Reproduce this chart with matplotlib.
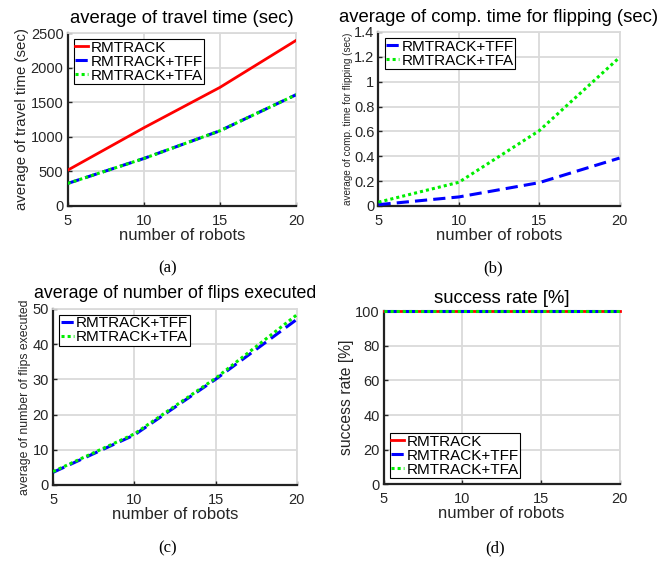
import matplotlib
matplotlib.use("Agg")
import matplotlib.pyplot as plt

robots = [5, 10, 15, 20]

# (a) average of travel time (sec)
travel_rmtrack = [517, 1130, 1715, 2395]
travel_tff = [325, 686, 1087, 1609]
travel_tfa = [325, 686, 1087, 1609]

# (b) average of computation time for flipping (sec)
comp_tff = [0.01, 0.072, 0.187, 0.385]
comp_tfa = [0.03, 0.19, 0.605, 1.195]

# (c) average of number of flips executed
flips_tff = [3.6, 14.2, 30.0, 47.0]
flips_tfa = [3.8, 14.5, 30.3, 48.3]

# (d) success rate [%]
succ_rmtrack = [100, 100, 100, 100]
succ_tff = [100, 100, 100, 100]
succ_tfa = [100, 100, 100, 100]

plt.rcParams["font.family"] = ["Liberation Sans", "DejaVu Sans"]

GRID = "#dadada"
TXT = "#262626"


def style(ax, yticks, ylim):
    ax.set_xlim(5, 20)
    ax.set_ylim(*ylim)
    ax.set_xticks([5, 10, 15, 20])
    ax.set_yticks(yticks)
    ax.grid(True, color=GRID, lw=1.3)
    ax.set_axisbelow(True)
    for s in ("top", "right"):
        ax.spines[s].set_color(GRID)
        ax.spines[s].set_linewidth(1.3)
    for s in ("left", "bottom"):
        ax.spines[s].set_color("#222222")
        ax.spines[s].set_linewidth(1.6)
    ax.tick_params(direction="in", length=3, width=1, labelsize=10.5, colors=TXT)
    ax.tick_params(axis="x", pad=6)
    ax.tick_params(axis="y", pad=3)
    ax.set_xlabel("number of robots", fontsize=12, color=TXT, labelpad=0)


def red(ax, y):
    ax.plot(robots, y, color="#ff0000", lw=2.0, label="RMTRACK", zorder=3)


def blue(ax, y):
    ax.plot(robots, y, color="#0000ff", lw=2.2, dashes=(4, 2), label="RMTRACK+TFF",
            zorder=3)


def green(ax, y):
    ax.plot(robots, y, color="#00ee00", lw=2.2, dashes=(1, 1), label="RMTRACK+TFA",
            zorder=3)


def legend(ax, loc):
    lg = ax.legend(loc=loc, fontsize=11, handlelength=0.85, handletextpad=0.15,
                   borderpad=0.1, labelspacing=0.0, borderaxespad=0.4,
                   fancybox=False, framealpha=1)
    lg.get_frame().set_edgecolor("black")
    lg.get_frame().set_linewidth(0.8)


fig = plt.figure(figsize=(6.64, 5.61), dpi=100)

ax1 = fig.add_axes([0.102, 0.633, 0.344, 0.308])
red(ax1, travel_rmtrack)
blue(ax1, travel_tff)
green(ax1, travel_tfa)
style(ax1, [0, 500, 1000, 1500, 2000, 2500], (0, 2500))
ax1.set_ylabel("average of travel time (sec)", fontsize=10.8, color=TXT, labelpad=1)
ax1.set_title("average of travel time (sec)", fontsize=13.3, pad=7)
legend(ax1, "upper left")

ax2 = fig.add_axes([0.570, 0.633, 0.363, 0.310])
blue(ax2, comp_tff)
green(ax2, comp_tfa)
style(ax2, [0, 0.2, 0.4, 0.6, 0.8, 1.0, 1.2, 1.4], (0, 1.4))
ax2.set_yticklabels(["0", "0.2", "0.4", "0.6", "0.8", "1", "1.2", "1.4"])
ax2.set_ylabel("average of comp. time for flipping (sec)", fontsize=7.2, color=TXT,
               labelpad=1)
ax2.set_title("average of comp. time for flipping (sec)", fontsize=13.3, pad=7)
legend(ax2, "upper left")

ax3 = fig.add_axes([0.080, 0.1355, 0.367, 0.314])
blue(ax3, flips_tff)
green(ax3, flips_tfa)
style(ax3, [0, 10, 20, 30, 40, 50], (0, 50))
ax3.set_ylabel("average of number of flips executed", fontsize=8.8, color=TXT,
               labelpad=1)
ax3.set_title("average of number of flips executed", fontsize=12.8, pad=7.5)
legend(ax3, "upper left")

ax4 = fig.add_axes([0.578, 0.137, 0.355, 0.308])
red(ax4, succ_rmtrack)
blue(ax4, succ_tff)
green(ax4, succ_tfa)
style(ax4, [0, 20, 40, 60, 80, 100], (0, 100))
ax4.set_ylabel("success rate [%]", fontsize=11.3, color=TXT, labelpad=1)
ax4.set_title("success rate [%]", fontsize=13.3, pad=6)
for ln in ax4.lines:
    ln.set_clip_on(False)
legend(ax4, "lower left")

for lab, x, y in [("(a)", 168, 268), ("(b)", 493, 268), ("(c)", 168, 548), ("(d)", 495, 548)]:
    fig.text(x / 664, 1 - y / 561, lab, ha="center", va="center", fontsize=12,
             family="Liberation Serif")

fig.savefig("out.png", dpi=100)
